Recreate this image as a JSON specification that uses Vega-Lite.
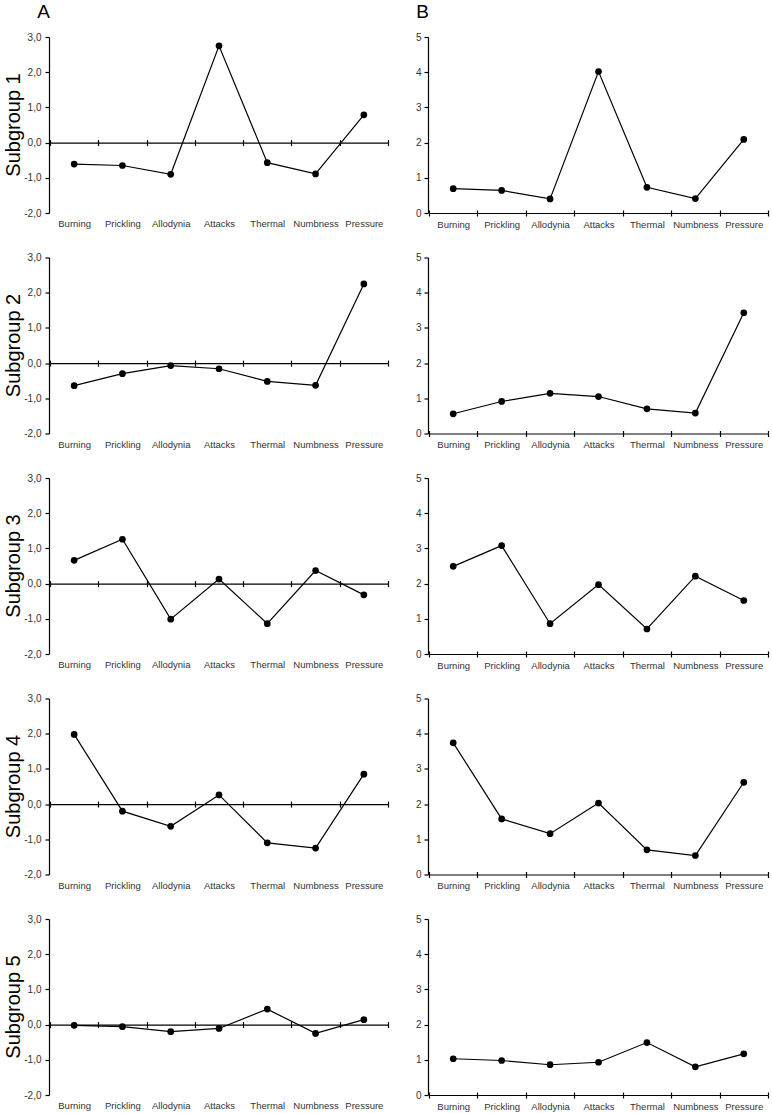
{
  "$schema": "https://vega.github.io/schema/vega-lite/v6.json",
  "padding": {"left": 3, "top": 3, "right": 3, "bottom": 3},
  "background": "white",
  "config": {
    "font": "Liberation Sans",
    "view": {"stroke": null},
    "axis": {"grid": false, "domainColor": "black", "tickColor": "black", "labelColor": "#333333", "labelFontSize": 10, "labelFont": "Liberation Sans", "domainWidth": 1.2, "tickWidth": 1.2}
  },
  "data": {
    "values": [
      {"sg": "Subgroup 1", "symptom": "Burning", "z": -0.61, "score": 0.69},
      {"sg": "Subgroup 1", "symptom": "Prickling", "z": -0.65, "score": 0.64},
      {"sg": "Subgroup 1", "symptom": "Allodynia", "z": -0.9, "score": 0.4},
      {"sg": "Subgroup 1", "symptom": "Attacks", "z": 2.75, "score": 4.02},
      {"sg": "Subgroup 1", "symptom": "Thermal", "z": -0.57, "score": 0.73},
      {"sg": "Subgroup 1", "symptom": "Numbness", "z": -0.89, "score": 0.41},
      {"sg": "Subgroup 1", "symptom": "Pressure", "z": 0.79, "score": 2.09},
      {"sg": "Subgroup 2", "symptom": "Burning", "z": -0.64, "score": 0.56},
      {"sg": "Subgroup 2", "symptom": "Prickling", "z": -0.3, "score": 0.91},
      {"sg": "Subgroup 2", "symptom": "Allodynia", "z": -0.07, "score": 1.14},
      {"sg": "Subgroup 2", "symptom": "Attacks", "z": -0.16, "score": 1.05},
      {"sg": "Subgroup 2", "symptom": "Thermal", "z": -0.52, "score": 0.7},
      {"sg": "Subgroup 2", "symptom": "Numbness", "z": -0.63, "score": 0.58},
      {"sg": "Subgroup 2", "symptom": "Pressure", "z": 2.25, "score": 3.43},
      {"sg": "Subgroup 3", "symptom": "Burning", "z": 0.66, "score": 2.49},
      {"sg": "Subgroup 3", "symptom": "Prickling", "z": 1.26, "score": 3.08},
      {"sg": "Subgroup 3", "symptom": "Allodynia", "z": -1.01, "score": 0.86},
      {"sg": "Subgroup 3", "symptom": "Attacks", "z": 0.13, "score": 1.97},
      {"sg": "Subgroup 3", "symptom": "Thermal", "z": -1.14, "score": 0.71},
      {"sg": "Subgroup 3", "symptom": "Numbness", "z": 0.37, "score": 2.21},
      {"sg": "Subgroup 3", "symptom": "Pressure", "z": -0.32, "score": 1.52},
      {"sg": "Subgroup 4", "symptom": "Burning", "z": 1.98, "score": 3.74},
      {"sg": "Subgroup 4", "symptom": "Prickling", "z": -0.2, "score": 1.58},
      {"sg": "Subgroup 4", "symptom": "Allodynia", "z": -0.63, "score": 1.16},
      {"sg": "Subgroup 4", "symptom": "Attacks", "z": 0.26, "score": 2.03},
      {"sg": "Subgroup 4", "symptom": "Thermal", "z": -1.1, "score": 0.7},
      {"sg": "Subgroup 4", "symptom": "Numbness", "z": -1.25, "score": 0.54},
      {"sg": "Subgroup 4", "symptom": "Pressure", "z": 0.85, "score": 2.62},
      {"sg": "Subgroup 5", "symptom": "Burning", "z": -0.02, "score": 1.03},
      {"sg": "Subgroup 5", "symptom": "Prickling", "z": -0.06, "score": 0.98},
      {"sg": "Subgroup 5", "symptom": "Allodynia", "z": -0.2, "score": 0.86},
      {"sg": "Subgroup 5", "symptom": "Attacks", "z": -0.11, "score": 0.93},
      {"sg": "Subgroup 5", "symptom": "Thermal", "z": 0.44, "score": 1.49},
      {"sg": "Subgroup 5", "symptom": "Numbness", "z": -0.25, "score": 0.8},
      {"sg": "Subgroup 5", "symptom": "Pressure", "z": 0.14, "score": 1.17}
    ]
  },
  "hconcat": [
    {
      "title": {"text": "A", "anchor": "start", "align": "right", "frame": "group", "fontSize": 19, "fontWeight": "normal", "color": "black", "offset": 10},
      "facet": {
        "row": {"field": "sg", "type": "nominal", "header": {"title": null, "labelAngle": -90, "labelOrient": "left", "labelFontSize": 20, "labelColor": "black", "labelPadding": -10}}
      },
      "spacing": {"row": 28.5},
      "resolve": {"axis": {"x": "independent"}},
      "spec": {
        "width": 338,
        "height": 176,
        "encoding": {
          "y": {"field": "z", "type": "quantitative", "scale": {"domain": [-2, 3], "nice": false, "zero": false},
            "axis": {"title": null, "values": [-2, -1, 0, 1, 2, 3], "tickSize": 4, "labelPadding": 4, "labelExpr": "replace(replace(format(datum.value, '.1f'), '.', ','), '\u2212', '-')"}}
        },
        "layer": [
          {
            "mark": {"type": "line", "color": "black", "strokeWidth": 1.2, "point": {"filled": true, "size": 45, "color": "black"}},
            "encoding": {
              "x": {"field": "symptom", "type": "nominal", "sort": ["Burning", "Prickling", "Allodynia", "Attacks", "Thermal", "Numbness", "Pressure"],
                "scale": {"type": "band", "paddingInner": 0, "paddingOuter": 0},
                "axis": {"title": null, "orient": "bottom", "offset": -70.4, "tickBand": "extent", "tickSize": 3, "labelPadding": 73, "labelAngle": 0, "labelFontSize": 9.5}}
            }
          },
          {
            "mark": {"type": "point", "opacity": 0},
            "encoding": {
              "x": {"field": "symptom", "type": "nominal", "sort": ["Burning", "Prickling", "Allodynia", "Attacks", "Thermal", "Numbness", "Pressure"],
                "axis": {"title": null, "orient": "bottom", "offset": -70.4, "tickBand": "extent", "tickSize": -3, "labels": false, "domain": false}}
            }
          }
        ],
        "resolve": {"axis": {"x": "independent"}}
      }
    },
    {
      "title": {"text": "B", "anchor": "start", "align": "right", "frame": "group", "fontSize": 19, "fontWeight": "normal", "color": "black", "offset": 10},
      "facet": {
        "row": {"field": "sg", "type": "nominal", "header": {"title": null, "labels": false}}
      },
      "spacing": {"row": 28.5},
      "resolve": {"axis": {"x": "independent"}},
      "spec": {
        "width": 339,
        "height": 176,
        "encoding": {
          "y": {"field": "score", "type": "quantitative", "scale": {"domain": [0, 5], "nice": false},
            "axis": {"title": null, "values": [0, 1, 2, 3, 4, 5], "tickSize": 4, "labelPadding": 3, "format": "d"}}
        },
        "layer": [
          {
            "mark": {"type": "line", "color": "black", "strokeWidth": 1.2, "point": {"filled": true, "size": 45, "color": "black"}},
            "encoding": {
              "x": {"field": "symptom", "type": "nominal", "sort": ["Burning", "Prickling", "Allodynia", "Attacks", "Thermal", "Numbness", "Pressure"],
                "scale": {"type": "band", "paddingInner": 0, "paddingOuter": 0},
                "axis": {"title": null, "orient": "bottom", "tickBand": "extent", "tickSize": 3, "labelPadding": 3, "labelAngle": 0, "labelFontSize": 9.5}}
            }
          },
          {
            "mark": {"type": "point", "opacity": 0},
            "encoding": {
              "x": {"field": "symptom", "type": "nominal", "sort": ["Burning", "Prickling", "Allodynia", "Attacks", "Thermal", "Numbness", "Pressure"],
                "axis": {"title": null, "orient": "bottom", "tickBand": "extent", "tickSize": -3, "labels": false, "domain": false}}
            }
          }
        ],
        "resolve": {"axis": {"x": "independent"}}
      }
    }
  ],
  "spacing": 26
}
